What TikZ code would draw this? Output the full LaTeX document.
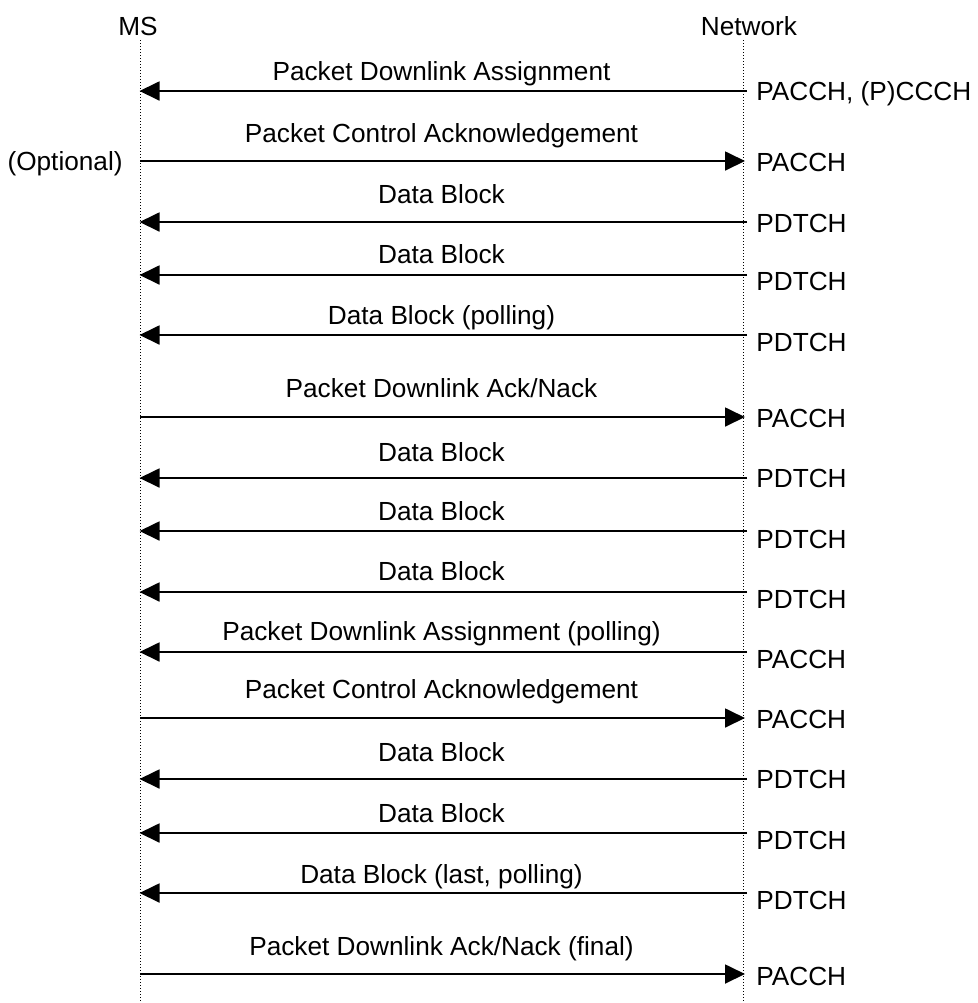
\documentclass[tikz,border=0pt]{standalone}
\usepackage{fontspec}
\setmainfont{Liberation Sans}
\usetikzlibrary{arrows.meta}

\begin{document}
\begin{tikzpicture}[x=0.5pt,y=-0.5pt,
	every node/.style={inner sep=0pt, font=\fontsize{13.1}{15}\selectfont},
	lbl/.style={anchor=base},
	chan/.style={anchor=base west},
	life/.style={line width=0.5pt, dash pattern=on 0.5pt off 1pt},
	sig/.style={line width=0.9pt, -{Triangle[length=10pt,width=9.5pt]}}]
	\useasboundingbox (0,0) rectangle (978,1003);
	
	\node[lbl] (ms) at (138,35) {MS};
	\node[lbl] (net) at (749,35) {Network};
	\coordinate (mstop) at (140,40); \coordinate (msbot) at (140,1003);
	\coordinate (nettop) at (743,40); \coordinate (netbot) at (743,1003);
	\draw[life] (mstop) -- (msbot);
	\draw[life] (nettop) -- (netbot);
	
	% ends of the signals on both lines
	\coordinate (a1) at (139.5,91);  \coordinate (b1) at (747,91);
	\coordinate (a2) at (140,161);   \coordinate (b2) at (745,161);
	\coordinate (a3) at (139.5,222); \coordinate (b3) at (747,222);
	\coordinate (a4) at (139.5,275); \coordinate (b4) at (747,275);
	\coordinate (a5) at (139.5,335); \coordinate (b5) at (747,335);
	\coordinate (a6) at (140,417);   \coordinate (b6) at (745,417);
	\coordinate (a7) at (139.5,478); \coordinate (b7) at (747,478);
	\coordinate (a8) at (139.5,531); \coordinate (b8) at (747,531);
	\coordinate (a9) at (139.5,592); \coordinate (b9) at (747,592);
	\coordinate (a10) at (139.5,652); \coordinate (b10) at (747,652);
	\coordinate (a11) at (140,718);   \coordinate (b11) at (745,718);
	\coordinate (a12) at (139.5,779); \coordinate (b12) at (747,779);
	\coordinate (a13) at (139.5,833); \coordinate (b13) at (747,833);
	\coordinate (a14) at (139.5,893); \coordinate (b14) at (747,893);
	\coordinate (a15) at (140,974);   \coordinate (b15) at (745,974);
	
	\node[lbl] (l1) at (441.5,80) {Packet Downlink Assignment};
	\node[lbl] (l2) at (441.5,142) {Packet Control Acknowledgement};
	\node[lbl] (l3) at (441.5,203) {Data Block};
	\node[lbl] (l4) at (441.5,263) {Data Block};
	\node[lbl] (l5) at (441.5,324) {Data Block (polling)};
	\node[lbl] (l6) at (441.5,397) {Packet Downlink Ack/Nack};
	\node[lbl] (l7) at (441.5,461) {Data Block};
	\node[lbl] (l8) at (441.5,520) {Data Block};
	\node[lbl] (l9) at (441.5,580) {Data Block};
	\node[lbl] (l10) at (441.5,640) {Packet Downlink Assignment (polling)};
	\node[lbl] (l11) at (441.5,698) {Packet Control Acknowledgement};
	\node[lbl] (l12) at (441.5,761) {Data Block};
	\node[lbl] (l13) at (441.5,822) {Data Block};
	\node[lbl] (l14) at (441.5,883) {Data Block (last, polling)};
	\node[lbl] (l15) at (441.5,955) {Packet Downlink Ack/Nack (final)};
	
	\node[anchor=base east] (opt) at (123,170) {(Optional)};
	
	\node[chan] (c1) at (756,100) {PACCH, (P)CCCH};
	\node[chan] (c2) at (756,171) {PACCH};
	\node[chan] (c3) at (756,232) {PDTCH};
	\node[chan] (c4) at (756,290) {PDTCH};
	\node[chan] (c5) at (756,351) {PDTCH};
	\node[chan] (c6) at (756,427) {PACCH};
	\node[chan] (c7) at (756,487) {PDTCH};
	\node[chan] (c8) at (756,548) {PDTCH};
	\node[chan] (c9) at (756,608) {PDTCH};
	\node[chan] (c10) at (756,668) {PACCH};
	\node[chan] (c11) at (756,728) {PACCH};
	\node[chan] (c12) at (756,788) {PDTCH};
	\node[chan] (c13) at (756,849) {PDTCH};
	\node[chan] (c14) at (756,909) {PDTCH};
	\node[chan] (c15) at (756,985) {PACCH};
	
	\draw[sig] (b1) -- (a1);
	\draw[sig] (a2) -- (b2);
	\draw[sig] (b3) -- (a3);
	\draw[sig] (b4) -- (a4);
	\draw[sig] (b5) -- (a5);
	\draw[sig] (a6) -- (b6);
	\draw[sig] (b7) -- (a7);
	\draw[sig] (b8) -- (a8);
	\draw[sig] (b9) -- (a9);
	\draw[sig] (b10) -- (a10);
	\draw[sig] (a11) -- (b11);
	\draw[sig] (b12) -- (a12);
	\draw[sig] (b13) -- (a13);
	\draw[sig] (b14) -- (a14);
	\draw[sig] (a15) -- (b15);
\end{tikzpicture}
\end{document}
